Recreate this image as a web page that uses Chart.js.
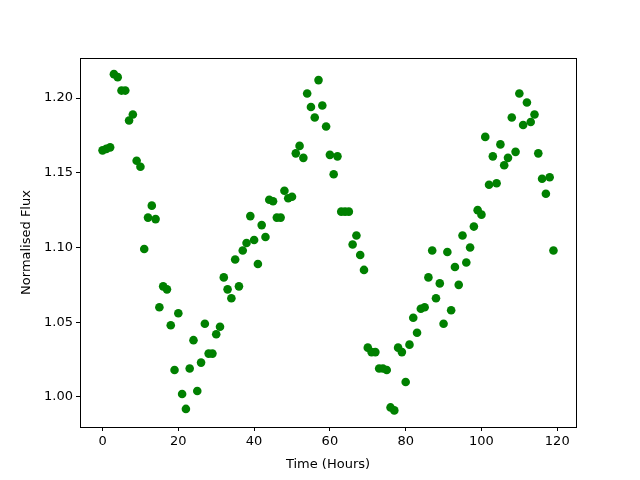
<!DOCTYPE html>
<html>
<head>
<meta charset="UTF-8">
<script src="https://cdn.jsdelivr.net/npm/chart.js"></script>
<style>
  body { margin: 0; background: #fff; }
  #wrap { width: 640px; height: 480px; }
</style>
</head>
<body>
<div id="wrap"><canvas id="c" width="640" height="480"></canvas></div>
<script>
// hourly normalised flux, hours 0..119
const hours = Array.from({length: 120}, (_, i) => i);
const flux = [
  1.165, 1.166, 1.167, 1.216, 1.214, 1.205, 1.205, 1.185, 1.189, 1.158,
  1.154, 1.099, 1.120, 1.128, 1.119, 1.060, 1.074, 1.072, 1.048, 1.018,
  1.056, 1.002, 0.992, 1.019, 1.038, 1.004, 1.023, 1.049, 1.029, 1.029,
  1.042, 1.047, 1.080, 1.072, 1.066, 1.092, 1.074, 1.098, 1.103, 1.121,
  1.105, 1.089, 1.115, 1.107, 1.132, 1.131, 1.120, 1.120, 1.138, 1.133,
  1.134, 1.163, 1.168, 1.160, 1.203, 1.194, 1.187, 1.212, 1.195, 1.181,
  1.162, 1.149, 1.161, 1.124, 1.124, 1.124, 1.102, 1.108, 1.095, 1.085,
  1.033, 1.030, 1.030, 1.019, 1.019, 1.018, 0.993, 0.991, 1.033, 1.030,
  1.010, 1.035, 1.053, 1.043, 1.059, 1.060, 1.080, 1.098, 1.066, 1.076,
  1.049, 1.097, 1.058, 1.087, 1.075, 1.108, 1.090, 1.100, 1.114, 1.125,
  1.122, 1.174, 1.142, 1.161, 1.143, 1.169, 1.155, 1.160, 1.187, 1.164,
  1.203, 1.182, 1.197, 1.184, 1.189, 1.163, 1.146, 1.136, 1.147, 1.098
];
const xTicks = [0, 20, 40, 60, 80, 100, 120];
const yTicks = [1.00, 1.05, 1.10, 1.15, 1.20];

const frame = {
  id: 'frame',
  afterDraw(chart) {
    const a = chart.chartArea, g = chart.ctx;
    g.save();
    g.strokeStyle = '#000';
    g.lineWidth = 1;
    g.strokeRect(Math.round(a.left) + 0.5, Math.round(a.top) + 0.5,
                 Math.round(a.right - a.left), Math.round(a.bottom - a.top));
    g.restore();
  }
};

Chart.defaults.font.family = 'DejaVu Sans';
Chart.defaults.font.size = 13;
Chart.defaults.color = '#000';

new Chart(document.getElementById('c'), {
  type: 'scatter',
  data: {
    datasets: [{
      data: hours.map((h, i) => ({x: h, y: flux[i]})),
      backgroundColor: '#008000',
      borderWidth: 0,
      pointRadius: 4.3,
      pointHoverRadius: 4.3
    }]
  },
  options: {
    responsive: false,
    animation: false,
    layout: { padding: { left: 0, top: 58, right: 64, bottom: 0 } },
    plugins: { legend: { display: false }, tooltip: { enabled: false } },
    scales: {
      x: {
        type: 'linear',
        min: -5.95,
        max: 124.95,
        afterBuildTicks: ax => { ax.ticks = xTicks.map(v => ({value: v})); },
        afterFit: ax => { ax.height = 53; },
        grid: { drawOnChartArea: false, drawTicks: true, tickLength: 4, color: '#000' },
        border: { display: false },
        ticks: { padding: 3, maxRotation: 0, autoSkip: false },
        title: { display: true, text: 'Time (Hours)', padding: { top: 4, bottom: 8 } }
      },
      y: {
        type: 'linear',
        min: 0.9799,
        max: 1.2268,
        afterBuildTicks: ax => { ax.ticks = yTicks.map(v => ({value: v})); },
        afterFit: ax => { ax.width = 80; },
        grid: { drawOnChartArea: false, drawTicks: true, tickLength: 4, color: '#000' },
        border: { display: false },
        ticks: { padding: 3, autoSkip: false, callback: v => v.toFixed(2) },
        title: { display: true, text: 'Normalised Flux', padding: { top: 19, bottom: 4 } }
      }
    }
  },
  plugins: [frame]
});
</script>
</body>
</html>
